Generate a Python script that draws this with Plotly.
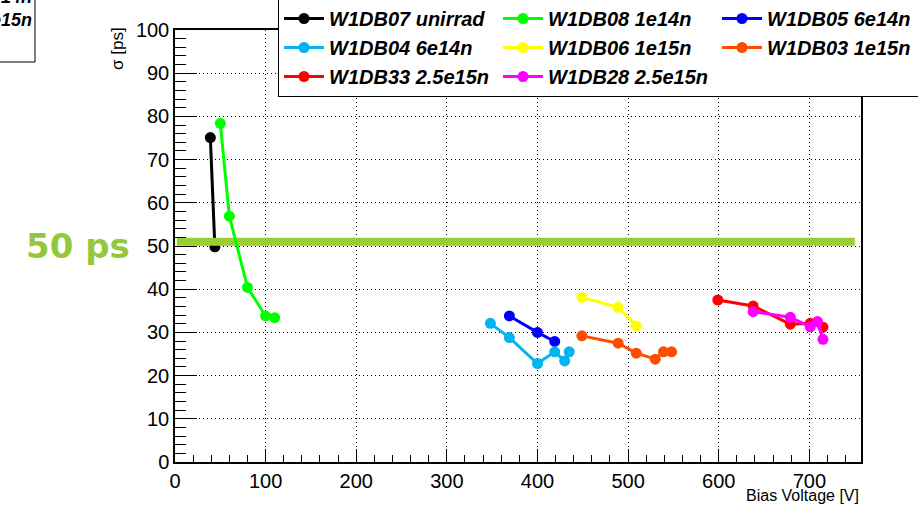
import plotly.graph_objects as go

# ---------------- data ----------------
names = ["W1DB07 unirrad", "W1DB08 1e14n", "W1DB05 6e14n",
         "W1DB04 6e14n", "W1DB06 1e15n", "W1DB03 1e15n",
         "W1DB33 2.5e15n", "W1DB28 2.5e15n"]
colors = ["#000000", "#00ff00", "#0000ff",
          "#00b4f0", "#ffff00", "#ff4d00",
          "#ff0000", "#ff00ff"]

w1db07_v = [39, 44]
w1db07_s = [75.1, 49.8]
w1db08_v = [50, 60, 80, 100, 110]
w1db08_s = [78.4, 56.9, 40.4, 33.8, 33.4]
w1db05_v = [369, 400, 419]
w1db05_s = [33.8, 30.0, 27.9]
w1db04_v = [348, 369, 400, 419, 430, 435]
w1db04_s = [32.1, 28.8, 22.8, 25.5, 23.4, 25.5]
w1db06_v = [449, 489, 509]
w1db06_s = [38.1, 35.8, 31.5]
w1db03_v = [449, 489, 509, 530, 539, 548]
w1db03_s = [29.2, 27.5, 25.2, 23.8, 25.5, 25.5]
w1db33_v = [599, 638, 679, 701, 715]
w1db33_s = [37.5, 36.1, 31.9, 32.1, 31.2]
w1db28_v = [638, 679, 701, 709, 715]
w1db28_s = [34.8, 33.5, 31.3, 32.5, 28.4]

threshold_v = [2, 750]
threshold_s = [51, 51]

x_range = [0, 757]
y_range = [0, 100]

series_v = [w1db07_v, w1db08_v, w1db05_v, w1db04_v, w1db06_v, w1db03_v, w1db33_v, w1db28_v]
series_s = [w1db07_s, w1db08_s, w1db05_s, w1db04_s, w1db06_s, w1db03_s, w1db33_s, w1db28_s]

# ---------------- layout geometry ----------------
W, H = 918, 505
ML, MR, MT, MB = 175, 57, 30, 43
PW, PH = W - ML - MR, H - MT - MB


def px(xp):
    return (xp - ML) / PW


def py(yp):
    return (H - MB - yp) / PH


fig = go.Figure()

for i, (n, c, v, s) in enumerate(zip(names, colors, series_v, series_s)):
    tr = go.Scatter(
        x=v, y=s, name=n, mode="lines+markers",
        line=dict(color=c, width=3),
        marker=dict(color=c, size=11, symbol="circle"),
    )
    if n in ("W1DB05 6e14n", "W1DB03 1e15n"):
        tr.legendwidth = 146
    fig.add_trace(tr)
    if i == 0:
        # 50 ps threshold bar (drawn above the black curve, below the others)
        fig.add_trace(go.Scatter(
            x=threshold_v, y=threshold_s, mode="lines", showlegend=False,
            line=dict(color="#9acd32", width=8), hoverinfo="skip"))

axis_font = dict(family="Liberation Sans, Arial, sans-serif", size=20, color="black")
common = dict(
    showline=True, linecolor="black", linewidth=1.5, mirror=True,
    ticks="inside", tickcolor="black", tickwidth=1,
    showgrid=True, gridcolor="black", gridwidth=1, griddash="1px,3px",
    zeroline=False, tickfont=axis_font,
)

fig.update_xaxes(range=x_range, dtick=100, tick0=0, ticklen=13,
                 minor=dict(dtick=20, ticks="inside", ticklen=7, tickcolor="black",
                            showgrid=False),
                 **common)
fig.update_yaxes(range=y_range, dtick=10, tick0=0, ticklen=22,
                 minor=dict(dtick=2, ticks="inside", ticklen=11, tickcolor="black",
                            showgrid=False),
                 **common)

fig.update_layout(
    width=W, height=H,
    margin=dict(l=ML, r=MR, t=MT, b=MB, pad=0, autoexpand=False),
    paper_bgcolor="white", plot_bgcolor="white",
    showlegend=True,
    legend=dict(
        orientation="h", x=px(278), y=py(-2), xanchor="left", yanchor="top",
        entrywidth=164, entrywidthmode="pixels", itemwidth=40,
        bgcolor="white", bordercolor="black", borderwidth=1,
        font=dict(family="Liberation Sans, Arial, sans-serif", size=20,
                  weight="bold", style="italic", color="black"),
        traceorder="normal",
    ),
    annotations=[
        dict(text="σ [ps]", xref="paper", yref="paper", x=px(117), y=py(49),
             xanchor="center", yanchor="middle", textangle=-90, showarrow=False,
             font=dict(family="Liberation Sans, Arial, sans-serif", size=17, color="black")),
        dict(text="Bias Voltage [V]", xref="paper", yref="paper", x=1, y=py(495),
             xanchor="right", yanchor="middle", showarrow=False,
             font=dict(family="Liberation Sans, Arial, sans-serif", size=16, color="black")),
        dict(text="50 ps", xref="paper", yref="paper", x=px(78), y=py(246),
             xanchor="center", yanchor="middle", showarrow=False,
             font=dict(family="DejaVu Sans, sans-serif", size=34, weight="bold",
                       color="#94c83c")),
        dict(text="6e14n<br>1e15n", xref="paper", yref="paper", x=px(34), y=py(9),
             xanchor="right", yanchor="middle", align="right", showarrow=False,
             font=dict(family="Liberation Sans, Arial, sans-serif", size=18,
                       weight="bold", style="italic", color="black")),
    ],
    shapes=[
        dict(type="rect", xref="paper", yref="paper", x0=px(-5), x1=px(35),
             y0=py(62), y1=py(-5), line=dict(color="black", width=1),
             fillcolor="rgba(0,0,0,0)", layer="above"),
    ],
)

fig.write_html("out.html")
